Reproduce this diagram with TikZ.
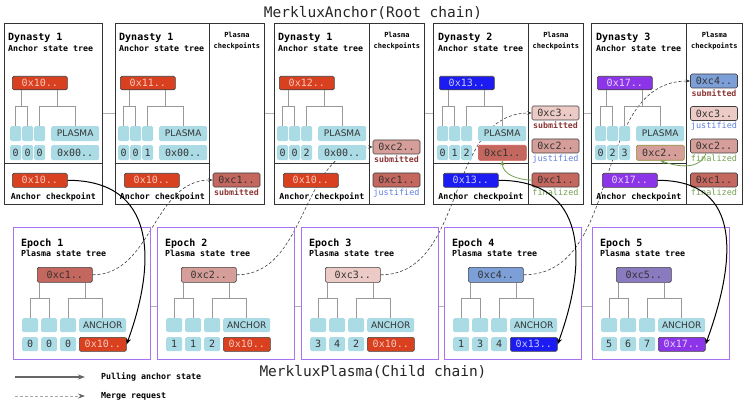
\documentclass[tikz,border=0pt]{standalone}
\usepackage{fontspec}
\usetikzlibrary{arrows.meta,calc,backgrounds}
\newfontfamily\codefamily{DejaVu Sans Mono}
\newfontfamily\tagfamily{DejaVu Sans}
\newcommand{\chainfont}{\codefamily\fontsize{14.5}{17}\selectfont}
\newcommand{\headfont}{\codefamily\bfseries\fontsize{10}{12}\selectfont}
\newcommand{\notefont}{\codefamily\bfseries\fontsize{8.3}{10}\selectfont}
\newcommand{\statefont}{\codefamily\fontsize{8.5}{10}\selectfont}
\newcommand{\cpheadfont}{\codefamily\bfseries\fontsize{7}{11}\selectfont}
\newcommand{\hashfont}{\codefamily\fontsize{10}{12}\selectfont}
\newcommand{\tagfont}{\tagfamily\fontsize{9}{11}\selectfont}

\definecolor{anchorred}{HTML}{D9401F}
\definecolor{anchorredtxt}{HTML}{F8C8BE}
\definecolor{anchorblue}{HTML}{1B1BF2}
\definecolor{anchorbluetxt}{HTML}{C8CCFF}
\definecolor{anchorpurple}{HTML}{8C35E8}
\definecolor{anchorpurpletxt}{HTML}{E6D6FF}
\definecolor{leafblue}{HTML}{ABDCE6}
\definecolor{cpone}{HTML}{C4675F}
\definecolor{cptwo}{HTML}{D69E99}
\definecolor{cpthree}{HTML}{ECCBC6}
\definecolor{cpfour}{HTML}{7C9FD7}
\definecolor{cpfive}{HTML}{8A7AC0}
\definecolor{submittedcol}{HTML}{8B3636}
\definecolor{justifiedcol}{HTML}{5F7FE0}
\definecolor{finalizedcol}{HTML}{72A050}
\definecolor{branchgray}{HTML}{999999}
\definecolor{epochpurple}{HTML}{A872F2}
\definecolor{legendgray}{HTML}{666666}
\definecolor{legendlight}{HTML}{A8A8A8}

\tikzset{
  chaintitle/.style={font=\chainfont, text=black!85, inner sep=0pt, anchor=base},
  panelbox/.style={draw=black!80, line width=0.8pt, minimum height=181pt, inner sep=0pt, anchor=north west},
  panelpen/.style={draw=black!80, line width=0.8pt},
  epochbox/.style={draw=epochpurple, line width=0.8pt, minimum width=137pt, minimum height=132pt, inner sep=0pt, anchor=north west},
  link/.style={draw=black!30, line width=0.8pt},
  branch/.style={draw=branchgray, line width=0.8pt},
  heading/.style={font=\headfont, anchor=base west, inner sep=0pt},
  subhead/.style={font=\notefont, anchor=base west, inner sep=0pt},
  note/.style={font=\notefont, inner sep=0pt},
  cphead/.style={font=\cpheadfont, align=center, inner sep=0pt},
  status/.style={font=\statefont, anchor=north, inner sep=1.5pt},
  submittedtag/.style={status, font=\notefont, text=submittedcol},
  justifiedtag/.style={status, text=justifiedcol},
  finalizedtag/.style={status, text=finalizedcol},
  hashbox/.style={draw=black!75, line width=0.6pt, rounded corners=1.5pt, minimum width=55pt, minimum height=14pt, inner sep=0pt, font=\hashfont, text=black!80},
  cpbox/.style={hashbox, minimum width=47pt},
  leaf/.style={fill=leafblue, rounded corners=1.5pt, inner sep=0pt, minimum height=15pt, anchor=north west, font=\hashfont, text=black!80},
  redhash/.style={fill=anchorred, text=anchorredtxt},
  bluehash/.style={fill=anchorblue, text=anchorbluetxt},
  purplehash/.style={fill=anchorpurple, text=anchorpurpletxt},
  c1/.style={fill=cpone}, c2/.style={fill=cptwo}, c3/.style={fill=cpthree},
  c4/.style={fill=cpfour}, c5/.style={fill=cpfive},
  pull/.style={-{Stealth[length=6pt,width=5pt]}, line width=1pt, black},
  merge/.style={-{Stealth[length=4.5pt,width=3.5pt]}, dash pattern=on 3pt off 2pt, line width=0.6pt, black!75},
  settle/.style={-{Stealth[length=5pt,width=4pt]}, line width=0.8pt, finalizedcol},
}

% anchor state tree: x, name, root, root colour, three digits, last leaf, its colour
\newcommand{\anchortree}[9]{%
  \node[hashbox, #4, anchor=north west, minimum height=13.5pt] (#2root) at (#1+2,76) {#3};
  \node[leaf, minimum width=11pt] (#2a) at (#1,126) {};
  \node[leaf, minimum width=11pt] (#2b) at (#1+12,126) {};
  \node[leaf, minimum width=11pt] (#2c) at (#1+24,126) {};
  \node[leaf, minimum width=48pt, font=\tagfont] (#2d) at (#1+41,126) {PLASMA};
  \node[leaf, minimum width=11pt] (#2e) at (#1,145) {#5};
  \node[leaf, minimum width=11pt] (#2f) at (#1+12,145) {#6};
  \node[leaf, minimum width=11pt] (#2g) at (#1+24,145) {#7};
  \node[leaf, minimum width=48pt, #9] (#2h) at (#1+41,145) {#8};
  \draw[branch] (#2a.north) -- ++(0,-20) -| (#2b.north);
  \draw[branch] (#2c.north) -- ++(0,-20) -| (#2d.north);
  \path ($(#2a.north)!.5!(#2b.north)$) ++(0,-20) coordinate (#2ab);
  \path ($(#2c.north)!.5!(#2d.north)$) ++(0,-20) coordinate (#2cd);
  \draw[branch] (#2ab) -- (#2ab |- #2root.south);
  \draw[branch] (#2cd) -- (#2cd |- #2root.south);
}

% plasma state tree: x, epoch, root, root colour, three digits, anchor leaf, its colour
\newcommand{\plasmatree}[9]{%
  \node[epochbox] (e#2) at (#1,227) {};
  \node[heading] (e#2head) at (#1+8,246) {Epoch #2};
  \node[subhead] (e#2sub) at (#1+8,256) {Plasma state tree};
  \node[hashbox, #4, anchor=north west, minimum height=15pt] (e#2root) at (#1+24,267) {#3};
  \node[leaf, minimum width=16pt, minimum height=14pt] (e#2a) at (#1+9,318) {};
  \node[leaf, minimum width=16pt, minimum height=14pt] (e#2b) at (#1+28,318) {};
  \node[leaf, minimum width=16pt, minimum height=14pt] (e#2c) at (#1+47,318) {};
  \node[leaf, minimum width=47pt, minimum height=14pt, font=\tagfont] (e#2d) at (#1+66,318) {ANCHOR};
  \node[leaf, minimum width=16pt, minimum height=14pt] (e#2e) at (#1+9,337) {#5};
  \node[leaf, minimum width=16pt, minimum height=14pt] (e#2f) at (#1+28,337) {#6};
  \node[leaf, minimum width=16pt, minimum height=14pt] (e#2g) at (#1+47,337) {#7};
  \node[leaf, minimum width=47pt, minimum height=14pt, draw=black!75, line width=0.6pt, #9] (e#2h) at (#1+66,337) {#8};
  \draw[branch] (e#2a.north) -- ++(0,-20) -| (e#2b.north);
  \draw[branch] (e#2c.north) -- ++(0,-20) -| (e#2d.north);
  \path ($(e#2a.north)!.5!(e#2b.north)$) ++(0,-20) coordinate (e#2ab);
  \path ($(e#2c.north)!.5!(e#2d.north)$) ++(0,-20) coordinate (e#2cd);
  \draw[branch] (e#2ab) -- (e#2ab |- e#2root.south);
  \draw[branch] (e#2cd) -- (e#2cd |- e#2root.south);
}

\begin{document}
\begin{tikzpicture}[x=1pt,y=-1pt]
\useasboundingbox (0,0) rectangle (746,414);

% root chain
\node[chaintitle] (roottitle) at (373,18) {MerkluxAnchor(Root chain)};
\node[panelbox, minimum width=98pt] (d1) at (4,23) {};
\node[panelbox, minimum width=94pt] (d2) at (115,23) {};
\node[panelbox, minimum width=55pt] (p2) at (209,23) {};
\node[panelbox, minimum width=95pt] (d3) at (274,23) {};
\node[panelbox, minimum width=55pt] (p3) at (369,23) {};
\node[panelbox, minimum width=95pt] (d4) at (433,23) {};
\node[panelbox, minimum width=55pt] (p4) at (528,23) {};
\node[panelbox, minimum width=95pt] (d5) at (591,23) {};
\node[panelbox, minimum width=56pt] (p5) at (686,23) {};
\draw[link] (d1) -- (d2);
\draw[link] (p2) -- (d3);
\draw[link] (p3) -- (d4);
\draw[link] (p4) -- (d5);
\foreach \d/\x/\n in {d1/8/1, d2/119/1, d3/278/1, d4/438/2, d5/596/3} {
  \draw[panelpen] ([yshift=41pt]\d.south west) -- ([yshift=41pt]\d.south east);
  \node[heading] (\d-head) at (\x,41) {Dynasty \n};
  \node[subhead] (\d-sub) at (\x,51.5) {Anchor state tree};
  \node[note, anchor=base] (\d-cplabel) at ([yshift=5pt]\d.south) {Anchor checkpoint};
}
\foreach \p in {p2,p3,p4,p5}
  \node[cphead] (\p-head) at ([yshift=-18.5pt]\p.north) {Plasma\\checkpoints};

\anchortree{10}{d1}{0x10..}{redhash}{0}{0}{0}{0x00..}{}
\anchortree{118}{d2}{0x11..}{redhash}{0}{0}{1}{0x00..}{}
\anchortree{277}{d3}{0x12..}{redhash}{0}{0}{2}{0x00..}{}
\anchortree{437}{d4}{0x13..}{bluehash}{0}{1}{2}{0xc1..}{draw=cpone!85!red, line width=0.6pt, c1}
\anchortree{595}{d5}{0x17..}{purplehash}{0}{2}{3}{0xc2..}{draw=olive!60!gray, line width=0.6pt, c2}

\node[hashbox, redhash, anchor=north west] (d1cp) at (12,173) {0x10..};
\node[hashbox, redhash, anchor=north west] (d2cp) at (124,173) {0x10..};
\node[hashbox, redhash, anchor=north west] (d3cp) at (283,173) {0x10..};
\node[hashbox, bluehash, anchor=north west] (d4cp) at (443,173) {0x13..};
\node[hashbox, purplehash, anchor=north west] (d5cp) at (602,173) {0x17..};

% plasma checkpoints
\node[cpbox, c1] (p2c1) at (236.5,180) {0xc1..};
\node[submittedtag] (p2c1-s) at (p2c1.south) {submitted};
\node[cpbox, c2] (p3c2) at (396.5,147) {0xc2..};
\node[submittedtag] (p3c2-s) at (p3c2.south) {submitted};
\node[cpbox, c1] (p3c1) at (396.5,180) {0xc1..};
\node[justifiedtag] (p3c1-s) at (p3c1.south) {justified};
\node[cpbox, c3] (p4c3) at (555.5,113) {0xc3..};
\node[submittedtag] (p4c3-s) at (p4c3.south) {submitted};
\node[cpbox, c2] (p4c2) at (555.5,146) {0xc2..};
\node[justifiedtag] (p4c2-s) at (p4c2.south) {justified};
\node[cpbox, c1] (p4c1) at (555.5,180) {0xc1..};
\node[finalizedtag] (p4c1-s) at (p4c1.south) {finalized};
\node[cpbox, c4] (p5c4) at (714,81) {0xc4..};
\node[submittedtag] (p5c4-s) at (p5c4.south) {submitted};
\node[cpbox, c3] (p5c3) at (714,113.5) {0xc3..};
\node[justifiedtag] (p5c3-s) at (p5c3.south) {justified};
\node[cpbox, c2] (p5c2) at (714,146) {0xc2..};
\node[finalizedtag] (p5c2-s) at (p5c2.south) {finalized};
\node[cpbox, c1] (p5c1) at (714,180) {0xc1..};
\node[finalizedtag] (p5c1-s) at (p5c1.south) {finalized};

% child chain
\plasmatree{13}{1}{0xc1..}{c1}{0}{0}{0}{0x10..}{redhash}
\plasmatree{157}{2}{0xc2..}{c2}{1}{1}{2}{0x10..}{redhash}
\plasmatree{301}{3}{0xc3..}{c3}{3}{4}{2}{0x10..}{redhash}
\plasmatree{444}{4}{0xc4..}{c4}{1}{3}{4}{0x13..}{bluehash}
\plasmatree{592}{5}{0xc5..}{c5}{5}{6}{7}{0x17..}{purplehash}
\draw[link] ([yshift=-13pt]e1.east) -- ([yshift=-13pt]e2.west);
\draw[link] ([yshift=-13pt]e2.east) -- ([yshift=-13pt]e3.west);
\draw[link] ([yshift=-13pt]e3.east) -- ([yshift=-13pt]e4.west);
\draw[link] ([yshift=-13pt]e4.east) -- ([yshift=-13pt]e5.west);
\node[chaintitle] (childtitle) at (373,376) {MerkluxPlasma(Child chain)};

% merge requests go behind the boxes
\begin{scope}[on background layer]
  \draw[merge] (e1root.east) to[out=0,in=180] (p2c1.west);
  \draw[merge] (e2root.east) to[out=0,in=180] (p3c2.west);
  \draw[merge] (e3root.east) to[out=0,in=180] (p4c3.west);
  \draw[merge] (e4root.east) to[out=0,in=180] (p5c4.west);
\end{scope}

% pulling anchor state
\draw[pull] (d1cp.east) to[out=0,in=70,looseness=1.3] (e1h.east);
\draw[pull] (d4cp.east) to[out=0,in=70,looseness=1.3] (e4h.east);
\draw[pull] (d5cp.east) to[out=0,in=70,looseness=1.3] (e5h.east);
\draw[settle] (p4c1.west) to[out=180,in=-90] (d4h.south);
\draw[settle] ([xshift=-8pt]p5c2.south) to[out=-110,in=-20] (d5h.south);

% legend
\coordinate (pullfrom) at (15,377);
\coordinate (pullto) at (85,377);
\coordinate (mergefrom) at (15,396);
\coordinate (mergeto) at (85,396);
\draw[-{Stealth[length=7pt,width=5pt]}, line width=1.1pt, legendgray] (pullfrom) -- (pullto);
\draw[dash pattern=on 3pt off 2pt, line width=0.7pt, legendlight, -{Stealth[length=7pt,width=5pt,legendgray]}] (mergefrom) -- (mergeto);
\node[note, anchor=west] (pulltext) at (101,377) {Pulling anchor state};
\node[note, anchor=west] (mergetext) at (101,396) {Merge request};
\end{tikzpicture}
\end{document}
